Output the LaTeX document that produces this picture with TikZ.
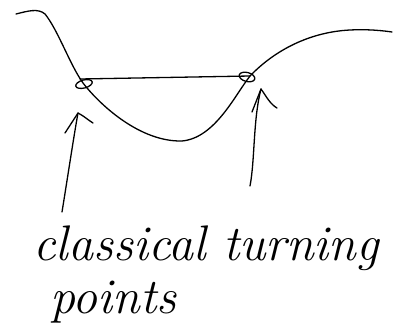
\documentclass[tikz,border=0pt]{standalone}
\usepackage{fontspec}
\usetikzlibrary{shapes.geometric}
\begin{document}
\begin{tikzpicture}[x=1pt,y=-1pt,
  ink/.style={line width=1.3pt,line cap=round,line join=round,black},
  hand/.style={font=\fontsize{50}{56}\selectfont\itshape,inner sep=0pt,anchor=base west}]
\useasboundingbox (0,0) rectangle (404,326);
% potential curve
\draw[ink] (16,14) .. controls (28,11) and (38,8) .. (45,14)
  .. controls (58,30) and (70,65) .. (83,83)
  .. controls (100,105) and (140,142) .. (182,141)
  .. controls (215,138) and (235,95) .. (250,76)
  .. controls (275,50) and (310,32) .. (350,30)
  .. controls (370,29) and (385,31) .. (392,32);
% energy level
\coordinate (L) at (80,79);
\coordinate (R) at (250,76);
\draw[ink] (L) -- (R);
% turning point markers
\node[ink,draw,ellipse,minimum width=17pt,minimum height=8pt,inner sep=0pt,rotate=15] (tpl) at (84,84) {};
\node[ink,draw,ellipse,minimum width=16pt,minimum height=9pt,inner sep=0pt,rotate=-15] (tpr) at (247,77) {};
% arrows
\coordinate (al0) at (62,212);
\coordinate (al1) at (78,113);
\draw[ink] (al0) .. controls (68,175) and (74,135) .. (al1);
\draw[ink] (65,133) -- (al1) .. controls (84,116) and (88,120) .. (93,123);
\coordinate (ar0) at (250,186);
\coordinate (ar1) at (261,89);
\draw[ink] (ar0) .. controls (255,160) and (253,120) .. (ar1);
\draw[ink] (252,112) -- (ar1) .. controls (266,96) and (270,104) .. (277,108);
% labels
\node[hand] (t1) at (33,260) {classical turning};
\node[hand] (t2) at (50,313) {points};
\end{tikzpicture}
\end{document}
